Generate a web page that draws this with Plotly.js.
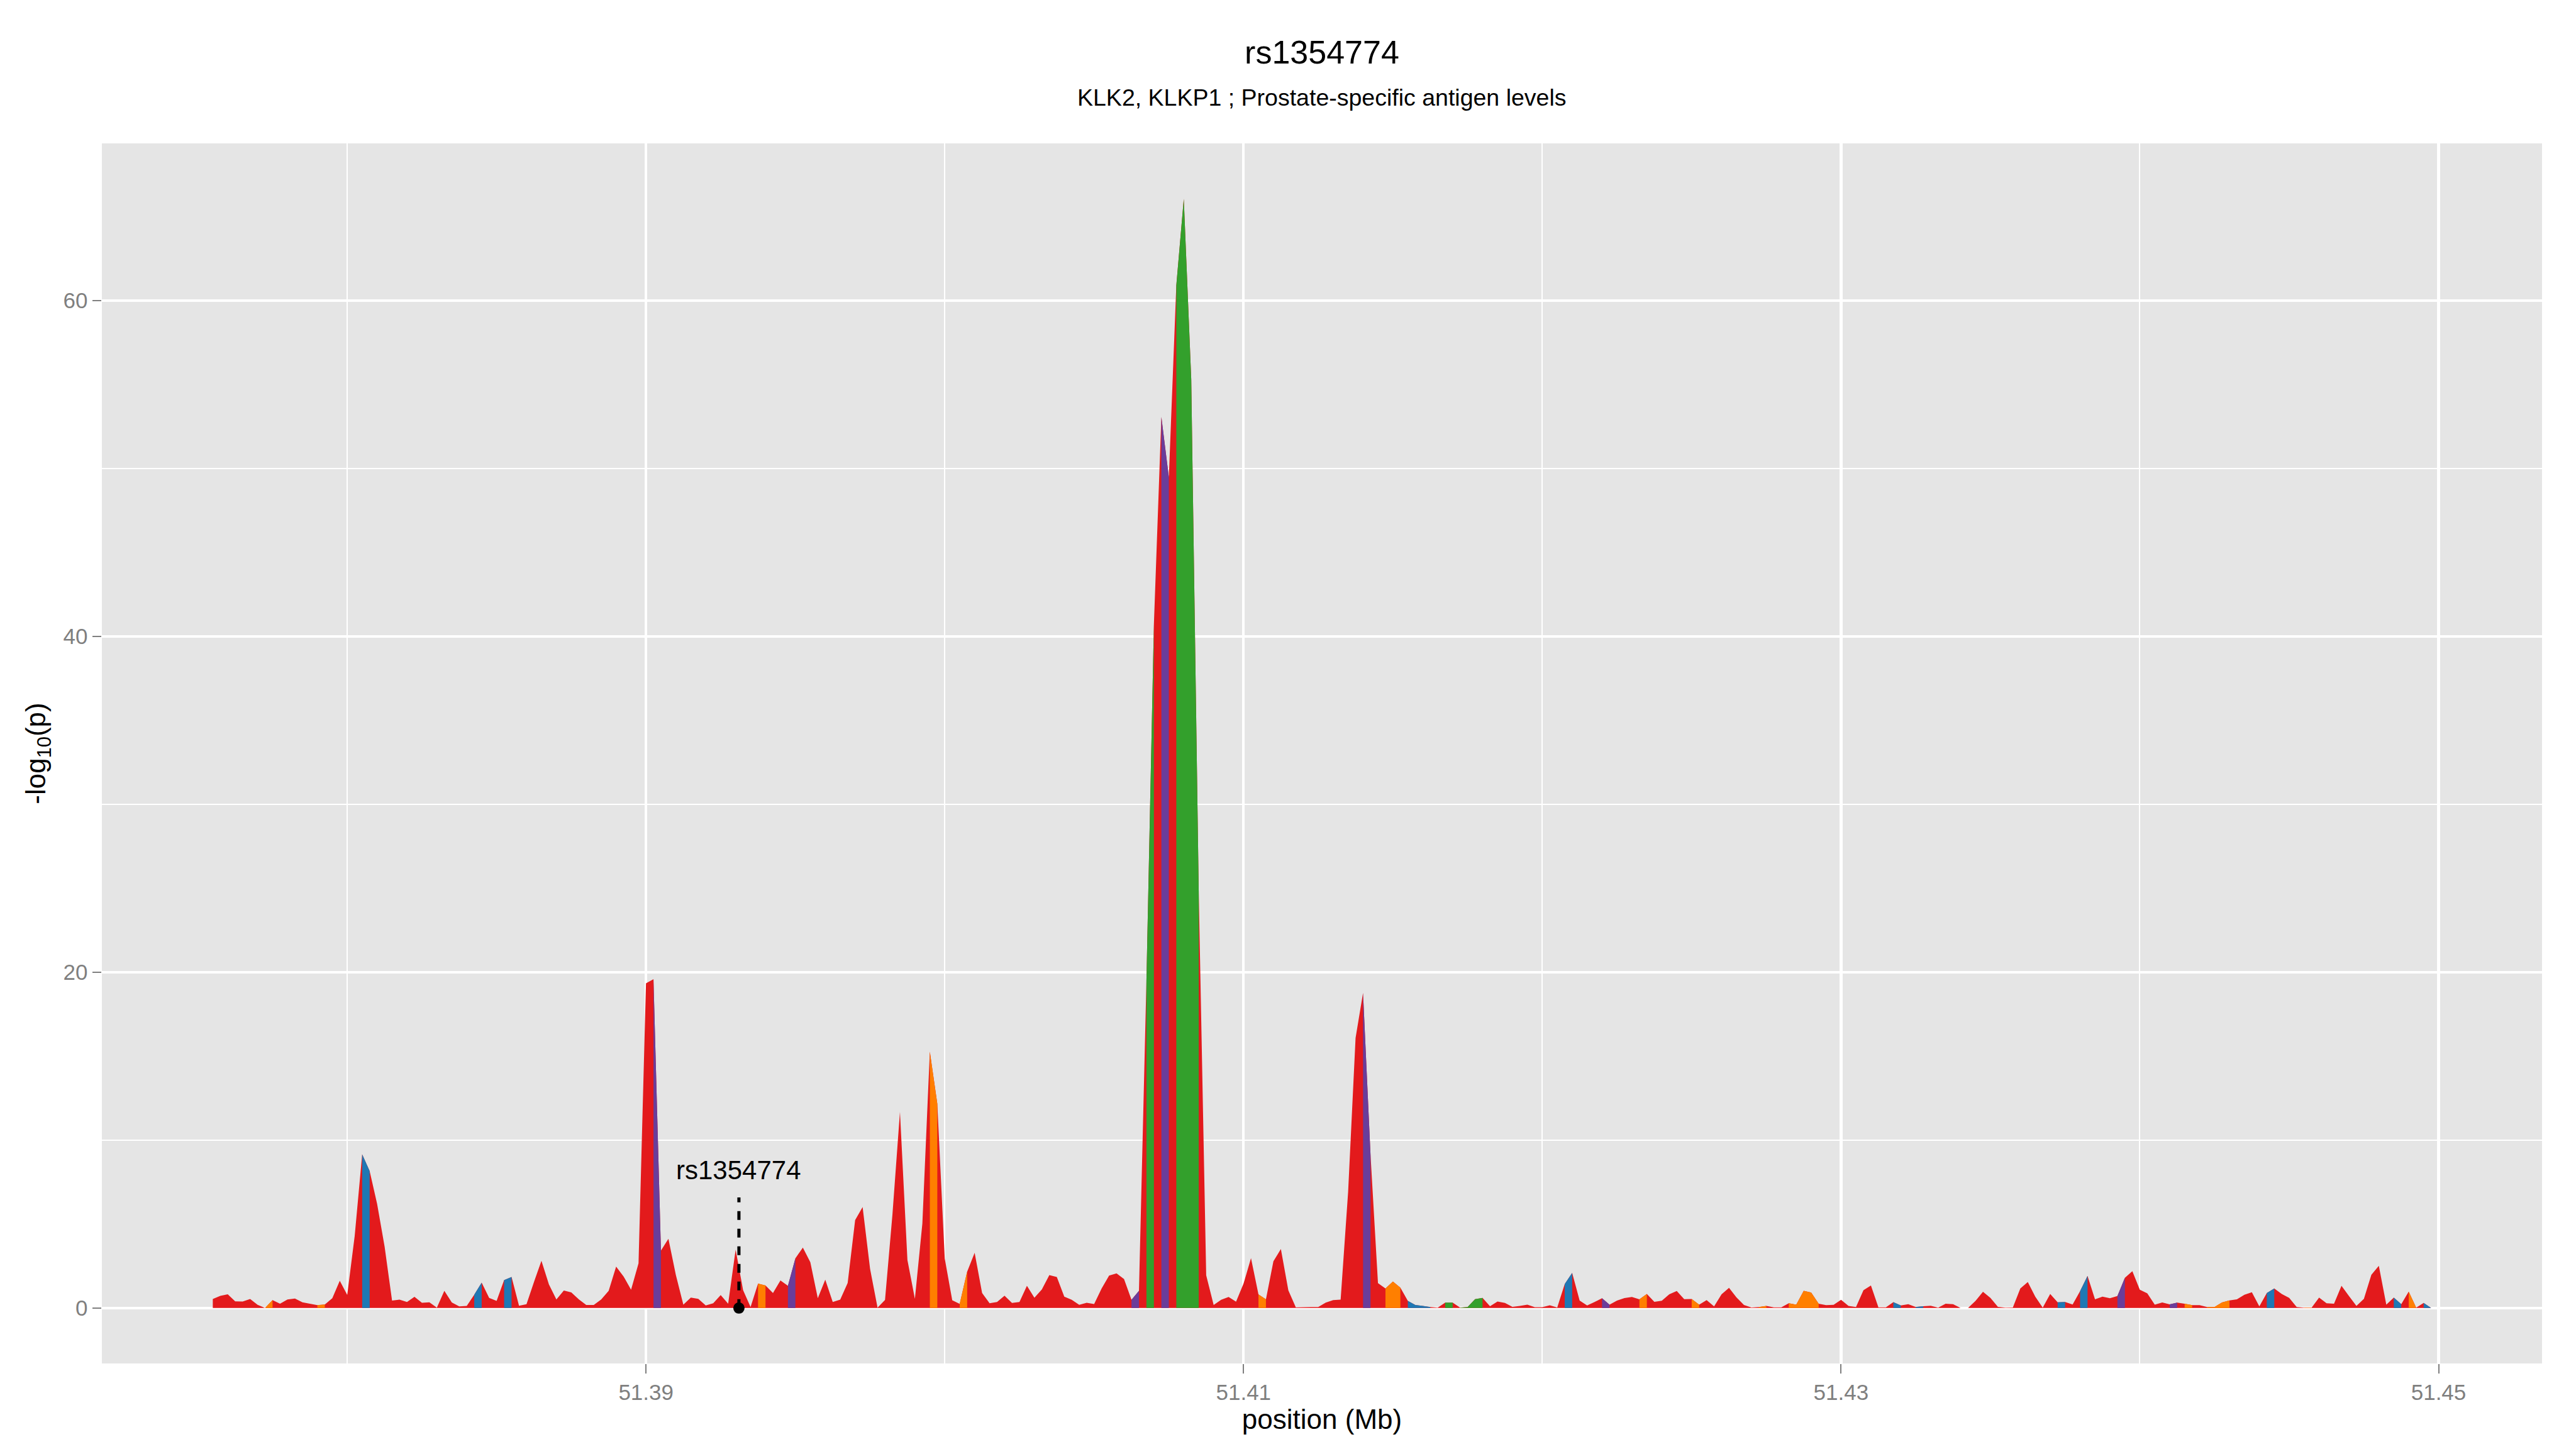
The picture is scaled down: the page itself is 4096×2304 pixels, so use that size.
<!DOCTYPE html>
<html>
<head>
<meta charset="utf-8">
<script src="https://cdn.plot.ly/plotly-3.0.1.min.js"></script>
<style>
html, body { margin: 0; padding: 0; background: #ffffff; }
#chart { width: 4096px; height: 2304px; }
</style>
</head>
<body>
<div id="chart"></div>
<script>
// ---------------- data ----------------
const chartTitle = "rs1354774";
const chartSubtitle = "KLK2, KLKP1 ; Prostate-specific antigen levels";

// genomic position (Mb)
const positionMb = [
51.37550,51.37575,51.37600,51.37625,51.37650,51.37675,51.37700,51.37725,
51.37750,51.37775,51.37800,51.37825,51.37850,51.37875,51.37900,51.37925,
51.37950,51.37975,51.38000,51.38025,51.38050,51.38075,51.38100,51.38125,
51.38150,51.38175,51.38200,51.38225,51.38250,51.38275,51.38300,51.38325,
51.38350,51.38375,51.38400,51.38425,51.38450,51.38475,51.38500,51.38525,
51.38550,51.38575,51.38600,51.38625,51.38650,51.38675,51.38700,51.38725,
51.38750,51.38775,51.38800,51.38825,51.38850,51.38875,51.38900,51.38925,
51.38950,51.38975,51.39000,51.39025,51.39050,51.39075,51.39100,51.39125,
51.39150,51.39175,51.39200,51.39225,51.39250,51.39275,51.39300,51.39325,
51.39350,51.39375,51.39400,51.39425,51.39450,51.39475,51.39500,51.39525,
51.39550,51.39575,51.39600,51.39625,51.39650,51.39675,51.39700,51.39725,
51.39750,51.39775,51.39800,51.39825,51.39850,51.39875,51.39900,51.39925,
51.39950,51.39975,51.40000,51.40025,51.40050,51.40075,51.40100,51.40125,
51.40150,51.40175,51.40200,51.40225,51.40250,51.40275,51.40300,51.40325,
51.40350,51.40375,51.40400,51.40425,51.40450,51.40475,51.40500,51.40525,
51.40550,51.40575,51.40600,51.40625,51.40650,51.40675,51.40700,51.40725,
51.40750,51.40775,51.40800,51.40825,51.40850,51.40875,51.40900,51.40925,
51.40950,51.40975,51.41000,51.41025,51.41050,51.41075,51.41100,51.41125,
51.41150,51.41175,51.41200,51.41225,51.41250,51.41275,51.41300,51.41325,
51.41350,51.41375,51.41400,51.41425,51.41450,51.41475,51.41500,51.41525,
51.41550,51.41575,51.41600,51.41625,51.41650,51.41675,51.41700,51.41725,
51.41750,51.41775,51.41800,51.41825,51.41850,51.41875,51.41900,51.41925,
51.41950,51.41975,51.42000,51.42025,51.42050,51.42075,51.42100,51.42125,
51.42150,51.42175,51.42200,51.42225,51.42250,51.42275,51.42300,51.42325,
51.42350,51.42375,51.42400,51.42425,51.42450,51.42475,51.42500,51.42525,
51.42550,51.42575,51.42600,51.42625,51.42650,51.42675,51.42700,51.42725,
51.42750,51.42775,51.42800,51.42825,51.42850,51.42875,51.42900,51.42925,
51.42950,51.42975,51.43000,51.43025,51.43050,51.43075,51.43100,51.43125,
51.43150,51.43175,51.43200,51.43225,51.43250,51.43275,51.43300,51.43325,
51.43350,51.43375,51.43400,51.43425,51.43450,51.43475,51.43500,51.43525,
51.43550,51.43575,51.43600,51.43625,51.43650,51.43675,51.43700,51.43725,
51.43750,51.43775,51.43800,51.43825,51.43850,51.43875,51.43900,51.43925,
51.43950,51.43975,51.44000,51.44025,51.44050,51.44075,51.44100,51.44125,
51.44150,51.44175,51.44200,51.44225,51.44250,51.44275,51.44300,51.44325,
51.44350,51.44375,51.44400,51.44425,51.44450,51.44475,51.44500,51.44525,
51.44550,51.44575,51.44600,51.44625,51.44650,51.44675,51.44700,51.44725,
51.44750,51.44775,51.44800,51.44825,51.44850,51.44875,51.44900,51.44925,
51.44950,51.44975
];

// -log10(p)
const negLog10P = [
0.54,0.72,0.82,0.40,0.39,0.54,0.19,0.00,0.47,0.26,
0.51,0.56,0.34,0.26,0.17,0.21,0.58,1.62,0.78,4.30,
9.15,8.16,6.20,3.66,0.44,0.50,0.36,0.67,0.31,0.34,
0.02,1.02,0.33,0.10,0.12,0.79,1.51,0.60,0.42,1.66,
1.85,0.13,0.23,1.55,2.81,1.41,0.51,1.04,0.93,0.52,
0.18,0.18,0.51,1.02,2.47,1.88,1.09,2.66,19.34,19.58,
3.42,4.12,1.96,0.20,0.62,0.55,0.15,0.28,0.77,0.26,
3.48,1.06,0.06,1.45,1.34,0.89,1.64,1.32,2.96,3.60,
2.73,0.58,1.69,0.36,0.50,1.49,5.24,6.01,2.33,0.02,
0.48,5.60,11.68,2.86,0.55,5.03,15.27,12.17,2.94,0.46,
0.25,2.17,3.29,0.89,0.28,0.36,0.73,0.30,0.36,1.32,
0.61,1.11,1.96,1.85,0.68,0.49,0.19,0.31,0.24,1.16,
1.93,2.06,1.73,0.49,1.02,19.50,40.74,53.07,49.48,60.91,
66.06,55.31,24.86,1.95,0.18,0.49,0.66,0.38,1.45,2.97,
0.81,0.52,2.78,3.51,1.05,0.04,0.05,0.06,0.06,0.32,
0.47,0.50,6.89,16.08,18.77,9.13,1.48,1.16,1.58,1.21,
0.42,0.18,0.12,0.06,0.02,0.32,0.32,0.02,0.06,0.53,
0.60,0.11,0.39,0.30,0.07,0.12,0.20,0.05,0.05,0.16,
0.03,1.43,2.09,0.44,0.15,0.36,0.58,0.20,0.44,0.59,
0.66,0.52,0.84,0.37,0.43,0.82,1.01,0.53,0.54,0.20,
0.47,0.10,0.82,1.20,0.63,0.18,0.03,0.06,0.12,0.04,
0.04,0.28,0.20,1.02,0.92,0.26,0.17,0.19,0.49,0.12,
0.06,1.06,1.34,0.04,0.04,0.35,0.15,0.23,0.06,0.11,
0.13,0.02,0.26,0.23,0.00,0.00,0.42,0.97,0.60,0.07,
0.02,0.03,1.16,1.55,0.68,0.02,0.84,0.34,0.36,0.21,
1.00,1.91,0.52,0.68,0.58,0.71,1.80,2.19,1.09,0.87,
0.20,0.33,0.22,0.32,0.26,0.17,0.17,0.06,0.06,0.33,
0.45,0.52,0.79,0.94,0.10,0.89,1.16,0.84,0.60,0.06,
0.02,0.02,0.62,0.28,0.26,1.32,0.71,0.12,0.55,1.98,
2.51,0.20,0.62,0.23,0.98,0.02,0.30,0.00
];

// index of the point that starts each coloured (non-red) interval, by LD class
const segBlue   = [20,35,39,160,161,162,181,225,228,247,250,275,292,296];
const segGreen  = [125,129,130,131,165,167,168,169];
const segPurple = [59,77,123,127,154,186,255,262];
const segOrange = [7,14,73,96,100,140,157,158,191,198,207,211,212,213,214,264,267,268,269,280,294];

// highlighted SNP
const snpLabel = "rs1354774";
const snpPosition = 51.39311;
const snpValue = 0;

// ---------------- styling ----------------
const palette = {
  base: "#E31A1C",
  blue: "#1F78B4",
  green: "#33A02C",
  purple: "#6A3D9A",
  orange: "#FF7F00"
};
const FONT = "Liberation Sans, Arial, Helvetica, sans-serif";

function segmentPolygons(indices) {
  const xs = [], ys = [];
  indices.forEach(function (i) {
    const x0 = positionMb[i], x1 = positionMb[i + 1];
    const y0 = negLog10P[i], y1 = negLog10P[i + 1];
    xs.push(x0, x0, x1, x1, x0, null);
    ys.push(0, y0, y1, 0, 0, null);
  });
  return { x: xs, y: ys };
}

const traces = [];
traces.push({
  type: "scatter", mode: "none", x: positionMb, y: negLog10P,
  fill: "tozeroy", fillcolor: palette.base, hoverinfo: "skip", showlegend: false
});
[["blue", segBlue], ["green", segGreen], ["purple", segPurple], ["orange", segOrange]].forEach(function (p) {
  const poly = segmentPolygons(p[1]);
  traces.push({
    type: "scatter", mode: "none", x: poly.x, y: poly.y,
    fill: "toself", fillcolor: palette[p[0]], hoverinfo: "skip", showlegend: false
  });
});
// dashed pointer line + dot
traces.push({
  type: "scatter", mode: "lines",
  x: [snpPosition, snpPosition], y: [snpValue, 6.59],
  line: { color: "#000000", width: 5, dash: "14px,14px" },
  hoverinfo: "skip", showlegend: false
});
traces.push({
  type: "scatter", mode: "markers",
  x: [snpPosition], y: [snpValue],
  marker: { color: "#000000", size: 18 },
  hoverinfo: "skip", showlegend: false
});

const gridMajor = "#FFFFFF";
const layout = {
  width: 4096, height: 2304,
  paper_bgcolor: "#FFFFFF", plot_bgcolor: "#E5E5E5",
  margin: { l: 162, r: 54, t: 228, b: 136, pad: 0 },
  font: { family: FONT, color: "#000000" },
  showlegend: false,
  title: {
    text: chartTitle, font: { family: FONT, size: 52, color: "#000000" },
    x: 0.5, xref: "paper", xanchor: "center",
    y: 1 - 83 / 2304, yref: "container", yanchor: "middle"
  },
  xaxis: {
    range: [51.3717875, 51.4534625],
    tickmode: "array", tickvals: [51.39, 51.41, 51.43, 51.45],
    ticktext: ["51.39", "51.41", "51.43", "51.45"],
    showgrid: true, gridcolor: gridMajor, gridwidth: 4.3,
    minor: { tickmode: "array", tickvals: [51.38, 51.40, 51.42, 51.44], showgrid: true, gridcolor: gridMajor, gridwidth: 2, ticklen: 0 },
    zeroline: false, showline: false,
    ticks: "outside", ticklen: 14.5, tickwidth: 2, tickcolor: "#7F7F7F",
    tickfont: { family: FONT, size: 35, color: "#7F7F7F" },
    title: { text: "position (Mb)", font: { family: FONT, size: 44, color: "#000000" }, standoff: 1 },
    automargin: false, fixedrange: true
  },
  yaxis: {
    range: [-3.303, 69.363],
    tickmode: "array", tickvals: [0, 20, 40, 60], ticktext: ["0", "20", "40", "60"],
    showgrid: true, gridcolor: gridMajor, gridwidth: 4.3,
    minor: { tickmode: "array", tickvals: [10, 30, 50], showgrid: true, gridcolor: gridMajor, gridwidth: 2, ticklen: 0 },
    zeroline: false, showline: false,
    ticks: "outside", ticklen: 14.5, tickwidth: 2, tickcolor: "#7F7F7F",
    tickfont: { family: FONT, size: 35, color: "#7F7F7F" },
    title: { text: "-log<sub>10</sub>(p)", font: { family: FONT, size: 44, color: "#000000" }, standoff: 14 },
    automargin: false, fixedrange: true
  },
  annotations: [
    {
      text: chartSubtitle, xref: "paper", yref: "paper",
      x: 0.5, y: (2168 - 155) / 1940, xanchor: "center", yanchor: "middle",
      showarrow: false, font: { family: FONT, size: 37.5, color: "#000000" }
    },
    {
      text: snpLabel, xref: "x", yref: "y",
      x: snpPosition, y: 8.2, xanchor: "center", yanchor: "middle",
      showarrow: false, font: { family: FONT, size: 42, color: "#000000" }
    }
  ]
};

Plotly.newPlot("chart", traces, layout, { displayModeBar: false, staticPlot: true });
</script>
</body>
</html>
